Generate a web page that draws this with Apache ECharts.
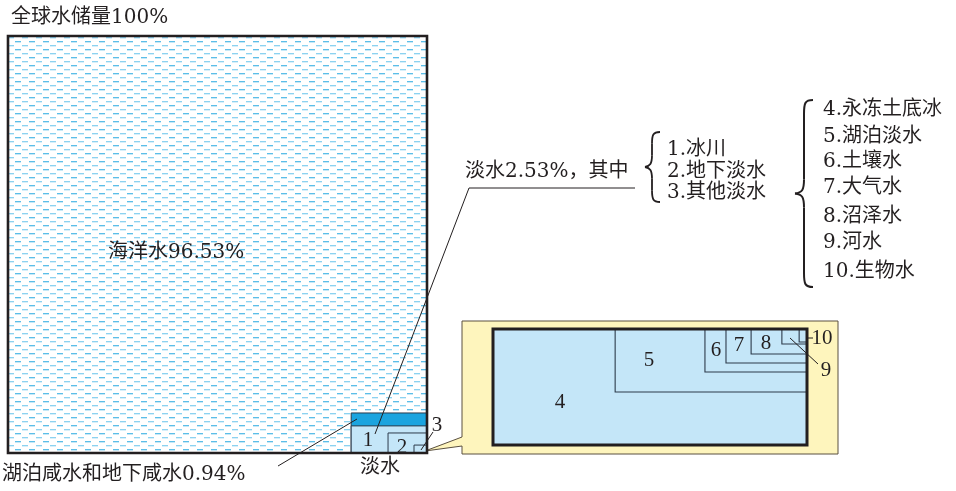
<!DOCTYPE html>
<html><head><meta charset="utf-8">
<script src="https://cdn.jsdelivr.net/npm/echarts@6/dist/echarts.min.js"></script>
<style>html,body{margin:0;padding:0;background:#fff}#c{width:956px;height:491px}</style>
</head><body><div id="c"></div>
<script>
// ---- data ----
// main square: boxes anchored at bottom-right corner, sizes in % of square side
const mainBoxes   = ['海洋水', '湖泊咸水和地下咸水', '淡水（1.冰川）', '2.地下淡水', '3.其他淡水'];
const mainWidths  = [100, 18.1, 18.1, 9.3, 3.1];
const mainHeights = [100, 9.6, 6.5, 4.8, 1.9];
const mainLabels  = ['', '', '1', '2', '3'];
// callout (other fresh water): boxes anchored at top-right corner
const subBoxes    = ['永冻土底冰', '湖泊淡水', '土壤水', '大气水', '沼泽水', '河水', '生物水'];
const subWidths   = [100, 61.1, 32.5, 25.8, 17.8, 8.0, 2.5];
const subHeights  = [100, 54.3, 37.1, 29.3, 21.6, 12.9, 11.2];
const subLabels   = ['4', '5', '6', '7', '8', '9', '10'];
const listA = ['1.冰川', '2.地下淡水', '3.其他淡水'];
const listB = ['4.永冻土底冰', '5.湖泊淡水', '6.土壤水', '7.大气水', '8.沼泽水', '9.河水', '10.生物水'];
const titleText = '全球水储量100%';
const oceanText = '海洋水96.53%';
const freshText = '淡水2.53%，其中';
const salineText = '湖泊咸水和地下咸水0.94%';
const freshName = '淡水';

// ---- styles ----
const F = "'DejaVu Serif','Noto Sans CJK SC',serif";
const FN = "'Liberation Serif','Noto Sans CJK SC',serif";
const INK = '#231f20';
const LIGHT = '#c4e6f8';
const DARK = '#1ba4df';
const THIN = '#2d3b4b';

function makePattern(){
  const c = document.createElement('canvas'); c.width = 14; c.height = 8;
  const g = c.getContext('2d');
  g.fillStyle = 'rgb(255,255,255)'; g.fillRect(0,0,14,8);
  g.fillStyle = 'rgb(92,190,232)'; g.fillRect(1,1,6,1);
  g.fillStyle = 'rgba(92,190,232,0.35)'; g.fillRect(1,2,6,1);
  g.fillStyle = 'rgb(140,210,240)'; g.fillRect(8,5,6,1);
  g.fillStyle = 'rgba(140,210,240,0.35)'; g.fillRect(8,6,6,1);
  return c;
}
const pattern = {image: makePattern(), repeat: 'repeat'};

function mainFill(i){ return i === 0 ? pattern : (i === 1 ? DARK : LIGHT); }

const chart = echarts.init(document.getElementById('c'), null, {renderer:'canvas'});

function txt(x, y, s, size, align, fam){
  return {type:'text', z:100, x:x, y:y, style:{text:s, fill:INK, font: size + 'px ' + (fam || F), textAlign: align || 'left', textVerticalAlign:'middle'}};
}
function line(pts){
  return {type:'polyline', z:100, shape:{points:pts}, style:{stroke:INK, lineWidth:1, fill:null}};
}
function bez(a, c1, c2, b, lw){
  return {type:'bezierCurve', z:100, shape:{x1:a[0], y1:a[1], cpx1:c1[0], cpy1:c1[1], cpx2:c2[0], cpy2:c2[1], x2:b[0], y2:b[1]},
    style:{stroke:INK, lineWidth:lw, fill:null}};
}
function seg(a, b, lw){
  return {type:'line', z:100, shape:{x1:a[0], y1:a[1], x2:b[0], y2:b[1]}, style:{stroke:INK, lineWidth:lw}};
}
// a left curly brace: tip x, stem x, end x, top/bottom y
function brace(xTip, xStem, xEnd, yTop, yBot, lw){
  const ym = (yTop + yBot) / 2, r = Math.min(14, (yBot - yTop) / 6);
  return [
    bez([xEnd, yTop], [xStem + 1, yTop], [xStem, yTop + 3], [xStem, yTop + r]),
    seg([xStem, yTop + r], [xStem, ym - r], lw),
    bez([xStem, ym - r], [xStem, ym - 3], [xStem - 2, ym - 1], [xTip, ym]),
    bez([xTip, ym], [xStem - 2, ym + 1], [xStem, ym + 3], [xStem, ym + r]),
    seg([xStem, ym + r], [xStem, yBot - r], lw),
    bez([xStem, yBot - r], [xStem, yBot - 3], [xStem + 1, yBot], [xEnd, yBot])
  ].map(e => { e.style.lineWidth = lw; return e; });
}

const graphics = [
  {type:'polygon', z:0, shape:{points:[[462,321],[838,321],[838,454],[462,454],[462,446],[425,451],[462,437]]},
   style:{fill:'#fef5bd', stroke:'#5a5040', lineWidth:1}},
  txt(11, 18, titleText, 20),
  txt(108, 253, oceanText, 20),
  txt(465, 172, freshText, 20),
  txt(2, 475, salineText, 20),
  txt(380, 468, freshName, 20, 'center'),
  line([[635,188],[469,188],[375,434]]),
  line([[278,466],[357,419]]),
  line([[433,432],[421,450]]),
  line([[790,338],[818,364]]),
  line([[806,338],[813,338]])
].concat(brace(645, 652, 660, 132, 202, 1.8), brace(795, 804, 813, 100, 287, 2));

const listAY = [150, 172, 193];
listA.forEach((s,i)=>graphics.push(txt(667, listAY[i], s, 20)));
const listBY = [110, 137, 162, 188, 217, 243, 272];
listB.forEach((s,i)=>graphics.push(txt(823, listBY[i], s, 20)));
const mainLabelPos = [null, null, [368,440], [402,447], [437,425]];
mainLabels.forEach((s,i)=>{ if(s) graphics.push(txt(mainLabelPos[i][0], mainLabelPos[i][1], s, 21, 'center', FN)); });
const subLabelPos = [[560,402],[649,360],[716,350],[739,345],[766,343],[826,370],[822,338]];
subLabels.forEach((s,i)=>graphics.push(txt(subLabelPos[i][0], subLabelPos[i][1], s, 21, 'center', FN)));

const option = {
  animation:false,
  backgroundColor:'#fff',
  grid:[
    {left:8, top:36, width:419, height:417},
    {left:493, top:329, width:314, height:116}
  ],
  xAxis:[
    {gridIndex:0, type:'value', min:0, max:100, show:false},
    {gridIndex:1, type:'value', min:0, max:100, show:false}
  ],
  yAxis:[
    {gridIndex:0, type:'value', min:0, max:100, show:false},
    {gridIndex:1, type:'value', min:0, max:100, show:false}
  ],
  graphic: graphics,
  series:[
    {type:'custom', name:'main', xAxisIndex:0, yAxisIndex:0, z:2,
     data: mainWidths.map((w,i)=>({name:mainBoxes[i], value:[w, mainHeights[i]]})),
     renderItem:function(params, api){
       const i = params.dataIndex, w = api.value(0), h = api.value(1);
       const p1 = api.coord([100 - w, h]), p2 = api.coord([100, 0]);
       return {type:'rect', shape:{x:p1[0], y:p1[1], width:p2[0]-p1[0], height:p2[1]-p1[1]},
         style:{fill:mainFill(i), stroke: i === 0 ? null : THIN, lineWidth:1}};
     }},
    {type:'custom', name:'mainOutline', xAxisIndex:0, yAxisIndex:0, z:3,
     data:[{name:mainBoxes[0], value:[mainWidths[0], mainHeights[0]]}],
     renderItem:function(params, api){
       const w = api.value(0), h = api.value(1);
       const p1 = api.coord([100 - w, h]), p2 = api.coord([100, 0]);
       return {type:'rect', shape:{x:p1[0], y:p1[1], width:p2[0]-p1[0], height:p2[1]-p1[1]},
         style:{fill:null, stroke:INK, lineWidth:2.6}};
     }},
    {type:'custom', name:'sub', xAxisIndex:1, yAxisIndex:1, z:2,
     data: subWidths.map((w,i)=>({name:subBoxes[i], value:[w, subHeights[i]]})),
     renderItem:function(params, api){
       const i = params.dataIndex, w = api.value(0), h = api.value(1);
       const p1 = api.coord([100 - w, 100]), p2 = api.coord([100, 100 - h]);
       return {type:'rect', shape:{x:p1[0], y:p1[1], width:p2[0]-p1[0], height:p2[1]-p1[1]},
         style:{fill:LIGHT, stroke: i === 0 ? null : THIN, lineWidth:1.1}};
     }},
    {type:'custom', name:'subOutline', xAxisIndex:1, yAxisIndex:1, z:3,
     data:[{name:subBoxes[0], value:[subWidths[0], subHeights[0]]}],
     renderItem:function(params, api){
       const w = api.value(0), h = api.value(1);
       const p1 = api.coord([100 - w, 100]), p2 = api.coord([100, 100 - h]);
       return {type:'rect', shape:{x:p1[0], y:p1[1], width:p2[0]-p1[0], height:p2[1]-p1[1]},
         style:{fill:null, stroke:INK, lineWidth:3}};
     }}
  ]
};
chart.setOption(option);
</script>
</body></html>
